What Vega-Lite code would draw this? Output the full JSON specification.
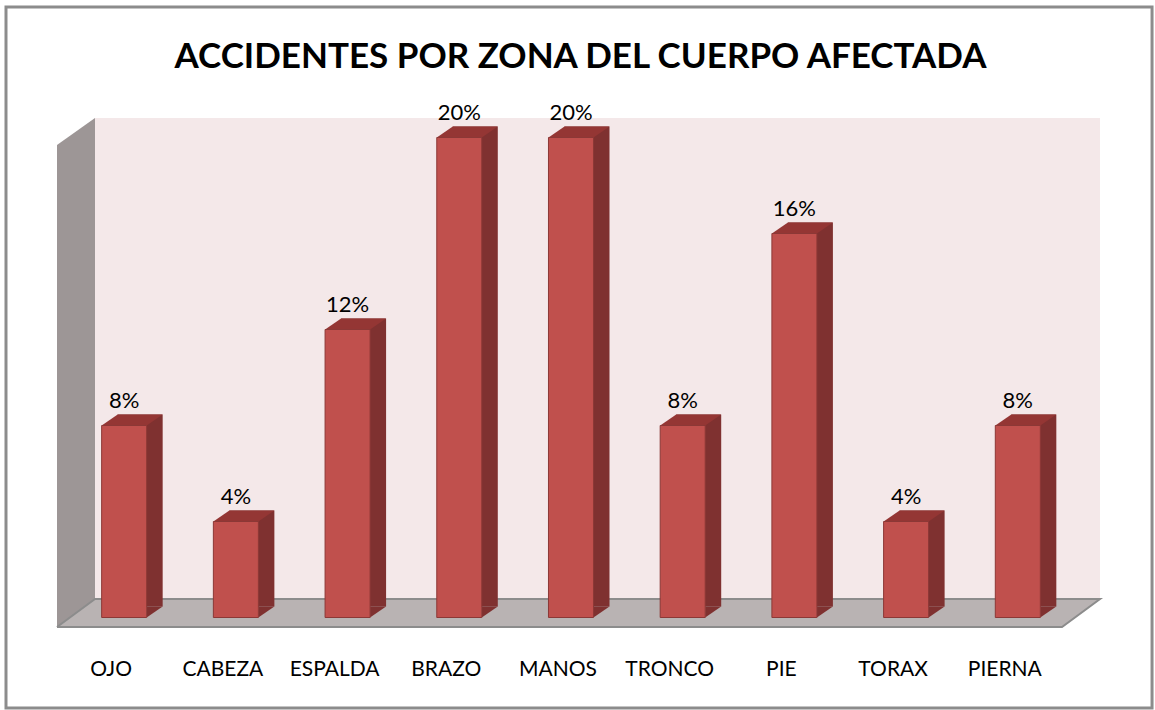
{
  "$schema": "https://vega.github.io/schema/vega-lite/v6.json",
  "width": 1043,
  "height": 509,
  "autosize": "none",
  "padding": {"left": 57, "top": 118, "right": 55, "bottom": 83},
  "background": "white",
  "config": {"view": {"stroke": null}, "font": "Lato"},
  "title": {
    "text": "ACCIDENTES POR ZONA DEL CUERPO AFECTADA",
    "font": "Lato",
    "fontSize": 35,
    "fontWeight": "bold",
    "color": "#000000",
    "anchor": "middle",
    "baseline": "alphabetic",
    "dx": 2,
    "offset": -98
  },
  "datasets": {
    "zonas": [
      {"zona": "OJO", "pct": 0.08},
      {"zona": "CABEZA", "pct": 0.04},
      {"zona": "ESPALDA", "pct": 0.12},
      {"zona": "BRAZO", "pct": 0.20},
      {"zona": "MANOS", "pct": 0.20},
      {"zona": "TRONCO", "pct": 0.08},
      {"zona": "PIE", "pct": 0.16},
      {"zona": "TORAX", "pct": 0.04},
      {"zona": "PIERNA", "pct": 0.08}
    ],
    "pared": [
      {"dx": 0, "lo": -0.003958, "hi": 0.19688},
      {"dx": 0.03643, "lo": 0.007708, "hi": 0.208125}
    ],
    "suelo": [
      {"dx": 0, "lo": -0.003958, "hi": -0.003958},
      {"dx": 0.03643, "lo": -0.003958, "hi": 0.007708},
      {"dx": 0.96357, "lo": -0.003958, "hi": 0.007708},
      {"dx": 1, "lo": 0.007708, "hi": 0.007708}
    ],
    "borde": [
      {"dx": 0, "v": -0.003958, "o": 1},
      {"dx": 0.96357, "v": -0.003958, "o": 2},
      {"dx": 1, "v": 0.007708, "o": 3},
      {"dx": 0.03643, "v": 0.007708, "o": 4},
      {"dx": 0, "v": -0.003958, "o": 5}
    ]
  },
  "layer": [
    {
      "layer": [
        {
          "data": {"values": [{}]},
          "mark": {"type": "rect", "filled": false, "stroke": "#8C8C8C", "strokeWidth": 3},
          "encoding": {
            "x": {"datum": -0.0489, "type": "quantitative", "scale": {"domain": [0, 1], "nice": false, "zero": false}, "axis": null},
            "x2": {"datum": 1.0499},
            "y": {"datum": 0.25438, "type": "quantitative", "scale": {"domain": [-0.003958, 0.208125], "nice": false, "zero": false}, "axis": null},
            "y2": {"datum": -0.03771}
          }
        },
        {
          "data": {"values": [{}]},
          "mark": {"type": "rect", "fill": "#F4E8E9"},
          "encoding": {
            "x": {"datum": 0.03643, "type": "quantitative", "scale": {"domain": [0, 1], "nice": false, "zero": false}, "axis": null},
            "x2": {"datum": 1},
            "y": {"datum": 0.208125, "type": "quantitative", "scale": {"domain": [-0.003958, 0.208125], "nice": false, "zero": false}, "axis": null},
            "y2": {"datum": 0.007708}
          }
        },
        {
          "data": {"name": "pared"},
          "mark": {"type": "area", "color": "#9D9696", "opacity": 1},
          "encoding": {
            "x": {"field": "dx", "type": "quantitative", "scale": {"domain": [0, 1], "nice": false, "zero": false}, "axis": null},
            "y": {"field": "hi", "type": "quantitative", "scale": {"domain": [-0.003958, 0.208125], "nice": false, "zero": false}, "axis": null},
            "y2": {"field": "lo"}
          }
        },
        {
          "data": {"name": "suelo"},
          "mark": {"type": "area", "color": "#B9B3B3", "opacity": 1},
          "encoding": {
            "x": {"field": "dx", "type": "quantitative", "scale": {"domain": [0, 1], "nice": false, "zero": false}, "axis": null},
            "y": {"field": "hi", "type": "quantitative", "scale": {"domain": [-0.003958, 0.208125], "nice": false, "zero": false}, "axis": null},
            "y2": {"field": "lo"}
          }
        },
        {
          "data": {"name": "borde"},
          "mark": {"type": "line", "color": "#8C8C8C", "strokeWidth": 2},
          "encoding": {
            "x": {"field": "dx", "type": "quantitative", "scale": {"domain": [0, 1], "nice": false, "zero": false}, "axis": null},
            "y": {"field": "v", "type": "quantitative", "scale": {"domain": [-0.003958, 0.208125], "nice": false, "zero": false}, "axis": null},
            "order": {"field": "o"}
          }
        }
      ]
    },
    {
      "data": {"name": "zonas"},
      "encoding": {
        "x": {
          "field": "zona",
          "type": "nominal",
          "sort": null,
          "scale": {"paddingInner": 0.597, "paddingOuter": 0.467, "align": 0.428},
          "axis": {
            "title": null,
            "domain": false,
            "ticks": false,
            "grid": false,
            "labelAngle": 0,
            "labelFont": "Lato",
            "labelFontSize": 21,
            "labelColor": "#000000",
            "labelOffset": -13,
            "labelPadding": 48,
            "labelBaseline": "alphabetic",
            "labelOverlap": false,
            "labelFlush": false
          }
        }
      },
      "layer": [
        {
          "mark": {"type": "bar", "color": "#7F3130", "xOffset": 16, "yOffset": -11, "y2Offset": -11},
          "encoding": {
            "y": {"field": "pct", "type": "quantitative", "scale": {"domain": [-0.003958, 0.208125], "nice": false, "zero": false}, "axis": null},
            "y2": {"datum": 0}
          }
        },
        {
          "mark": {"type": "point", "shape": "M 0.726 0 L 1.242 -0.355 L 0.726 -0.355 Z", "size": 3844, "filled": true, "opacity": 1, "color": "#7F3130", "strokeWidth": 0},
          "encoding": {
            "y": {"datum": 0, "type": "quantitative", "scale": {"domain": [-0.003958, 0.208125], "nice": false, "zero": false}, "axis": null}
          }
        },
        {
          "mark": {"type": "point", "shape": "M -0.726 0 L -0.21 -0.355 L 1.242 -0.355 L 0.726 0 Z", "size": 3844, "filled": true, "opacity": 1, "color": "#943634", "strokeWidth": 0},
          "encoding": {
            "y": {"field": "pct", "type": "quantitative", "scale": {"domain": [-0.003958, 0.208125], "nice": false, "zero": false}, "axis": null}
          }
        },
        {
          "mark": {"type": "bar", "color": "#C0504D", "stroke": "#8C3836", "strokeWidth": 1},
          "encoding": {
            "y": {"field": "pct", "type": "quantitative", "scale": {"domain": [-0.003958, 0.208125], "nice": false, "zero": false}, "axis": null},
            "y2": {"datum": 0}
          }
        },
        {
          "mark": {"type": "text", "baseline": "alphabetic", "dy": -18, "fontSize": 22, "font": "Lato", "color": "#000000"},
          "encoding": {
            "y": {"field": "pct", "type": "quantitative", "scale": {"domain": [-0.003958, 0.208125], "nice": false, "zero": false}, "axis": null},
            "text": {"field": "pct", "type": "quantitative", "format": ".0%"}
          }
        }
      ]
    }
  ],
  "resolve": {"scale": {"x": "independent"}}
}
